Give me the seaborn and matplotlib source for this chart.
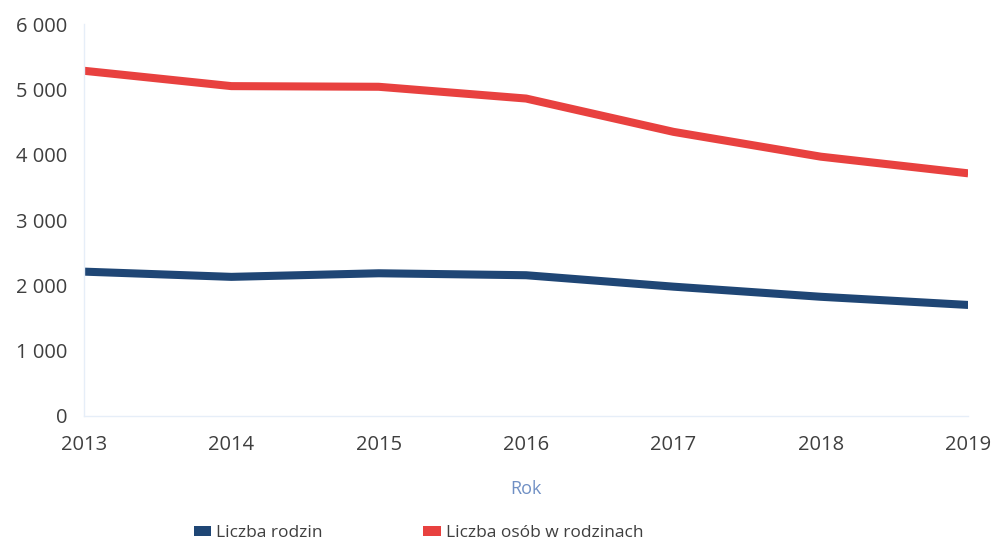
import matplotlib
matplotlib.use("Agg")
import matplotlib.pyplot as plt
import seaborn as sns
import pandas as pd
from matplotlib.patches import Patch

years = [2013, 2014, 2015, 2016, 2017, 2018, 2019]
liczba_rodzin = [2210, 2130, 2185, 2155, 1980, 1825, 1700]
liczba_osob = [5285, 5050, 5040, 4860, 4350, 3970, 3715]
series_names = ["Liczba rodzin", "Liczba osób w rodzinach"]
y_ticks = [0, 1000, 2000, 3000, 4000, 5000, 6000]
x_label = "Rok"

colors = {"Liczba rodzin": "#1f4675", "Liczba osób w rodzinach": "#e8413f"}

df = pd.concat([
    pd.DataFrame({"Rok": years, "Wartość": liczba_rodzin, "Seria": series_names[0]}),
    pd.DataFrame({"Rok": years, "Wartość": liczba_osob, "Seria": series_names[1]}),
])

sns.set_theme(style="white")
plt.rcParams["font.family"] = ["Open Sans", "DejaVu Sans"]

fig = plt.figure(figsize=(9.94, 5.47), dpi=100)
ax = fig.add_axes([0.0845, 0.2395, 0.8895, 0.7165])

sns.lineplot(data=df, x="Rok", y="Wartość", hue="Seria", palette=colors,
             linewidth=5.8, ax=ax, legend=False, solid_capstyle="butt",
             solid_joinstyle="round")

ax.set_xlim(2013, 2019)
ax.set_ylim(0, 6000)
ax.set_yticks(y_ticks)
ax.set_yticklabels([f"{v:,}".replace(",", " ") for v in y_ticks])
ax.set_xticks(years)
ax.set_xticklabels([str(y) for y in years])
ax.tick_params(axis="both", length=0, labelsize=14.5, colors="#3f3f3f")
ax.tick_params(axis="y", pad=12)
ax.tick_params(axis="x", pad=14)
ax.set_ylabel("")
ax.set_xlabel(x_label, fontsize=13, color="#6f8fc4", labelpad=18)

for s in ["top", "right"]:
    ax.spines[s].set_visible(False)
for s in ["left", "bottom"]:
    ax.spines[s].set_color("#e6eef8")
    ax.spines[s].set_linewidth(1.0)

handles = [Patch(facecolor=colors[n], edgecolor="none", label=n) for n in series_names]
fig.legend(handles=handles, loc="center left", bbox_to_anchor=(0.179, 0.026),
           ncol=2, frameon=False, fontsize=12.5, handlelength=1.0, handleheight=0.5,
           handletextpad=0.3, columnspacing=5.8, labelcolor="#3f3f3f")

fig.savefig("out.png", dpi=100, facecolor="white")
